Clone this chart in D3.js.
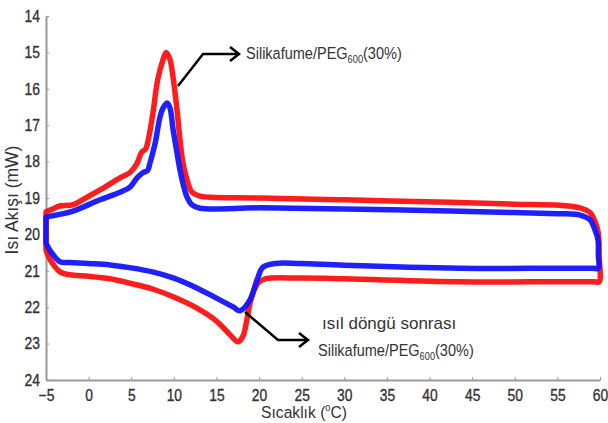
<!DOCTYPE html>
<html>
<head>
<meta charset="utf-8">
<script src="https://cdn.jsdelivr.net/npm/d3@7"></script>
<style>
  body { margin: 0; background: #fff; }
  svg text { font-family: "Liberation Sans", Arial, sans-serif; fill: #333; }
</style>
</head>
<body>
<svg id="chart" width="608" height="423"></svg>
<script>
// values: [temperature degC, heat flow mW]
const redHeat = [[-5, 19.38], [-4.2, 19.3], [-3.4, 19.22], [-1.8, 19.18], [-0.5, 19.02], [1.34, 18.78],
  [3.68, 18.45], [4.86, 18.3], [5.68, 18.05], [6.2, 17.75], [6.7, 17.65], [7.0, 17.4], [7.55, 16.66],
  [8.1, 15.76], [8.73, 15.2], [9.1, 15.0], [9.55, 15.2], [9.9, 15.67], [10.37, 16.58], [10.72, 17.4],
  [11.07, 18.04], [11.54, 18.5], [12.13, 18.84], [13.07, 18.95], [14.24, 18.98], [20.1, 19.0], [30, 19.05],
  [42.4, 19.12], [50, 19.17], [55.3, 19.2], [57.65, 19.27], [58.83, 19.4], [59.41, 19.65], [59.8, 19.96],
  [59.9, 20.6]];
const redCool = [[-5, 20.43], [-4.5, 20.7], [-3.36, 21.03], [-2.2, 21.11], [0, 21.15], [2.5, 21.22],
  [5, 21.35], [7.5, 21.5], [10, 21.72], [12.5, 22.0], [15, 22.38], [16.6, 22.76], [17.5, 22.95],
  [18.1, 22.8], [18.5, 22.43], [18.95, 21.88], [19.3, 21.6], [19.9, 21.33], [20.7, 21.22], [24.8, 21.2],
  [30, 21.22], [43.6, 21.3], [55, 21.3], [59.3, 21.3], [59.9, 21.3]];
const blueHeat = [[-5, 19.52], [-3.4, 19.45], [-1.83, 19.36], [1.34, 19.05], [3.68, 18.84], [4.86, 18.7],
  [5.68, 18.45], [6.4, 18.3], [6.9, 18.25], [7.2, 18.04], [7.8, 17.5], [8.38, 16.77], [8.73, 16.53],
  [9.2, 16.39], [9.55, 16.53], [9.9, 17.1], [10.37, 17.76], [10.72, 18.23], [11.07, 18.6], [11.54, 18.97],
  [12.13, 19.19], [13.07, 19.28], [20.1, 19.27], [30, 19.3], [42.4, 19.36], [50, 19.4], [55.3, 19.43],
  [57.65, 19.47], [58.83, 19.6], [59.41, 19.88], [59.77, 20.15], [59.8, 20.55]];
const blueCool = [[-5, 20.24], [-4.5, 20.45], [-3.36, 20.75], [-2.2, 20.77], [0, 20.8], [2.5, 20.84],
  [5, 20.92], [7.5, 21.03], [10, 21.2], [12.5, 21.45], [15, 21.75], [17.0, 22.0], [17.76, 22.1],
  [18.93, 21.8], [19.76, 21.25], [20.46, 20.9], [21.87, 20.8], [24.8, 20.8], [30, 20.85], [43.6, 20.93],
  [55, 20.93], [59.2, 20.93], [59.8, 20.93]];

const xTicks = [-5, 0, 5, 10, 15, 20, 25, 30, 35, 40, 45, 50, 55, 60];
const yTicks = [14, 15, 16, 17, 18, 19, 20, 21, 22, 23, 24];
const seriesColors = ["#ff1010", "#1414ff"];

const svg = d3.select("#chart");

const x = d3.scaleLinear().domain([-5, 60]).range([46, 600]);
const y = d3.scaleLinear().domain([14, 24]).range([16, 380]);

// axes
const xAxis = svg.append("g")
  .attr("transform", "translate(0,380)")
  .call(d3.axisBottom(x).tickValues(xTicks).tickSizeInner(-3).tickSizeOuter(0).tickPadding(9));
const yAxis = svg.append("g")
  .attr("transform", "translate(46,0)")
  .call(d3.axisLeft(y).tickValues(yTicks).tickSizeInner(-3).tickSizeOuter(0).tickPadding(6));

[xAxis, yAxis].forEach(a => {
  a.select(".domain").attr("stroke", "#999").attr("stroke-width", 2);
  a.selectAll(".tick line").attr("stroke", "#999");
  // condensed look of the original labels
  a.selectAll("text")
    .attr("font-size", 16.5)
    .attr("fill", "#333")
    .attr("stroke", "#333")
    .attr("stroke-width", 0.35)
    .attr("transform", "scale(0.84,1)")
    .style("font-family", '"Liberation Sans", Arial, sans-serif');
});
yAxis.selectAll("text").attr("x", -6 / 0.84);

// curves, each drawn as one loop (heating then cooling back)
const line = d3.line()
  .x(d => x(d[0]))
  .y(d => y(d[1]))
  .curve(d3.curveCatmullRom.alpha(0.5));

[[redHeat, redCool], [blueHeat, blueCool]].forEach((pair, i) => {
  const loop = pair[0].concat(pair[1].slice().reverse());
  svg.append("path")
    .attr("d", line(loop) + "Z")
    .attr("fill", "none")
    .attr("stroke", seriesColors[i])
    .attr("stroke-width", 5.5)
    .attr("stroke-linejoin", "round")
    .attr("opacity", 0.95);
});

// axis titles
svg.append("text")
  .attr("transform", "translate(18,200) rotate(-90)")
  .attr("text-anchor", "middle")
  .attr("font-size", 17.5)
  .text("Isı Akışı (mW)");

const xt = svg.append("text")
  .attr("transform", "translate(304,418) scale(0.92,1)")
  .attr("text-anchor", "middle")
  .attr("font-size", 17);
xt.append("tspan").text("Sıcaklık (");
xt.append("tspan").attr("font-size", 10).attr("dy", -7).text("o");
xt.append("tspan").attr("dy", 7).text("C)");

// annotations
const arrowGroup = svg.append("g").attr("stroke", "#000").attr("stroke-width", 2.5).attr("fill", "none");
arrowGroup.append("path").attr("d", "M178,86 L203,54 L238,54");
arrowGroup.append("path").attr("d", "M230,47 L239,54 L230,61");
arrowGroup.append("path").attr("d", "M245,312 L278,340 L307,340");
arrowGroup.append("path").attr("d", "M299,333 L308,340 L299,347");

function label(tx, ty) {
  const t = svg.append("text")
    .attr("transform", `translate(${tx},${ty}) scale(0.88,1)`)
    .attr("font-size", 16.5);
  t.append("tspan").text("Silikafume/PEG");
  t.append("tspan").attr("font-size", 10.5).attr("dy", 4).text("600");
  t.append("tspan").attr("dy", -4).text("(30%)");
}
label(246, 59);
label(318, 356);

svg.append("text")
  .attr("x", 322).attr("y", 329)
  .attr("font-size", 17)
  .text("ısıl döngü sonrası");
</script>
</body>
</html>
